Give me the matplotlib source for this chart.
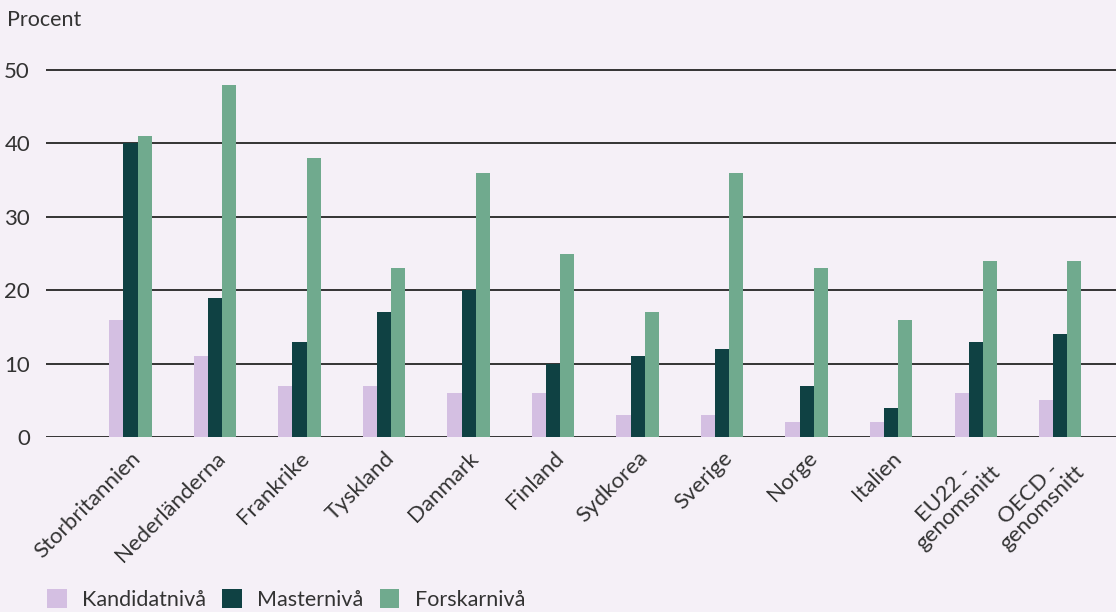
import matplotlib
matplotlib.use("Agg")
import matplotlib.pyplot as plt
import numpy as np
import matplotlib.transforms as mtransforms

categories = ["Storbritannien", "Nederländerna", "Frankrike", "Tyskland", "Danmark",
              "Finland", "Sydkorea", "Sverige", "Norge", "Italien",
              "EU22 -\ngenomsnitt", "OECD -\ngenomsnitt"]
kandidat = [16, 11, 7, 7, 6, 6, 3, 3, 2, 2, 6, 5]
master = [40, 19, 13, 17, 20, 10, 11, 12, 7, 4, 13, 14]
forskar = [41, 48, 38, 23, 36, 25, 17, 36, 23, 16, 24, 24]
series_names = ["Kandidatnivå", "Masternivå", "Forskarnivå"]
yticks = [0, 10, 20, 30, 40, 50]

colors = ["#D4BFE2", "#0F4143", "#70AA8E"]
bg = "#F5F0F7"
txt = "#333333"

plt.rcParams['font.family'] = ['Lato', 'DejaVu Sans']

fig = plt.figure(figsize=(11.16, 6.12), dpi=100, facecolor=bg)
ax = fig.add_axes([46/1116, 1 - 437/612, 1070/1116, (437 - 70)/612 * 52/50])
ax.set_facecolor(bg)

x = np.arange(len(categories))
w = 0.167
for i, (vals, name) in enumerate(zip([kandidat, master, forskar], series_names)):
    ax.bar(x + (i - 1) * w, vals, width=w, color=colors[i], label=name, zorder=3)

ax.set_xlim(-1.0, 11.66)
ax.set_ylim(0, 52)
ax.set_yticks(yticks)
ax.yaxis.grid(True, color="#333333", linewidth=1.4, zorder=1)
ax.set_axisbelow(True)
for s in ax.spines.values():
    s.set_visible(False)
ax.tick_params(axis='y', length=0, pad=11.5, labelsize=16, labelcolor=txt)
ax.tick_params(axis='x', length=0)
ax.set_xticks(x)
ax.set_xticklabels(categories, rotation=45, ha='right', rotation_mode='anchor',
                   fontsize=16, color=txt, multialignment='center', linespacing=1.0)
offset = mtransforms.ScaledTranslation(0/100, -6/100, fig.dpi_scale_trans)
for lab in ax.get_xticklabels():
    lab.set_transform(lab.get_transform() + offset)

fig.text(7/1116, 1 - 20/612, "Procent", fontsize=15.5, color=txt, va='center', ha='left')

leg = fig.legend(loc='lower left', bbox_to_anchor=(28/1116, -17/612), ncol=3, frameon=False,
                 fontsize=15.5, handlelength=0.9, handleheight=0.95, handletextpad=0.72,
                 columnspacing=0.75)
for t in leg.get_texts():
    t.set_color(txt)

fig.savefig("out.png", dpi=100, facecolor=bg)
